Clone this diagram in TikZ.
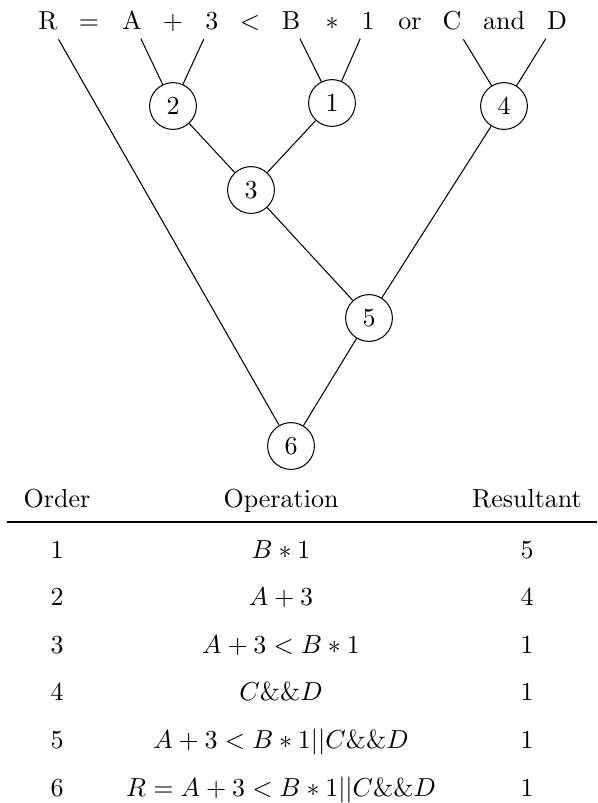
\documentclass[tikz,border=0pt]{standalone}
\usepackage{amsmath}
\usepackage{tikz}
\usetikzlibrary{positioning, calc}

\begin{document}
\begin{tikzpicture}[
    x=0.3846pt, y=-0.3846pt,
    tok/.style={anchor=base},
    opnode/.style={circle, draw, minimum size=18pt, inner sep=0pt},
    cell/.style={anchor=base},
    link/.style={line width=0.4pt},
]
\useasboundingbox (0,0) rectangle (597,803);

% ============ expression ============
\node[tok] (tR)    at (48,29.5)  {R};
\node[tok] (tEq)   at (89,29.5)  {$=$};
\node[tok] (tA)    at (132,29.5) {A};
\node[tok] (tPlus) at (173,29.5) {$+$};
\node[tok] (t3)    at (212,29.5) {3};
\node[tok] (tLt)   at (250,29.5) {$<$};
\node[tok] (tB)    at (291,29.5) {B};
\node[tok] (tStar) at (332,29.5) {$*$};
\node[tok] (t1)    at (368,29.5) {1};
\node[tok] (tOr)   at (410,29.5) {or};
\node[tok] (tC)    at (452,29.5) {C};
\node[tok] (tAnd)  at (504,29.5) {and};
\node[tok] (tD)    at (557,29.5) {D};

% ============ evaluation order ============
\node[opnode] (n2) at (173,106) {2};
\node[opnode] (n1) at (332,103) {1};
\node[opnode] (n4) at (504,106) {4};
\node[opnode] (n3) at (251,190) {3};
\node[opnode] (n5) at (369,318) {5};
\node[opnode] (n6) at (291,446) {6};

\draw[link] (tA) -- (n2);
\draw[link] (t3) -- (n2);
\draw[link] (tB) -- (n1);
\draw[link] (t1) -- (n1);
\draw[link] (tC) -- (n4);
\draw[link] (tD) -- (n4);
\draw[link] (n2) -- (n3);
\draw[link] (n1) -- (n3);
\draw[link] (n3) -- (n5);
\draw[link] (n4) -- (n5);
\draw[link] (n5) -- (n6);
\draw[link] (tR) -- (n6);

% ============ table ============
\node[cell] (hOrder) at (57,507)  {Order};
\node[cell] (hOp)    at (281,507) {Operation};
\node[cell] (hRes)   at (527,507) {Resultant};
\coordinate (ruleL) at (7,522);
\coordinate (ruleR) at (597,522);
\draw[line width=0.6pt] (ruleL) -- (ruleR);

\foreach \ord/\op/\res [count=\k from 0] in {
    1/{$B*1$}/5,
    2/{$A+3$}/4,
    3/{$A+3<B*1$}/1,
    4/{$C\&\&D$}/1,
    5/{$A+3<B*1||C\&\&D$}/1,
    6/{$R=A+3<B*1||C\&\&D$}/1}
{
    \node[cell] (ord\ord) at (57,558+47.6*\k)  {\ord};
    \node[cell] (op\ord)  at (281,558+47.6*\k) {\op};
    \node[cell] (res\ord) at (527,558+47.6*\k) {\res};
}

\end{tikzpicture}
\end{document}
